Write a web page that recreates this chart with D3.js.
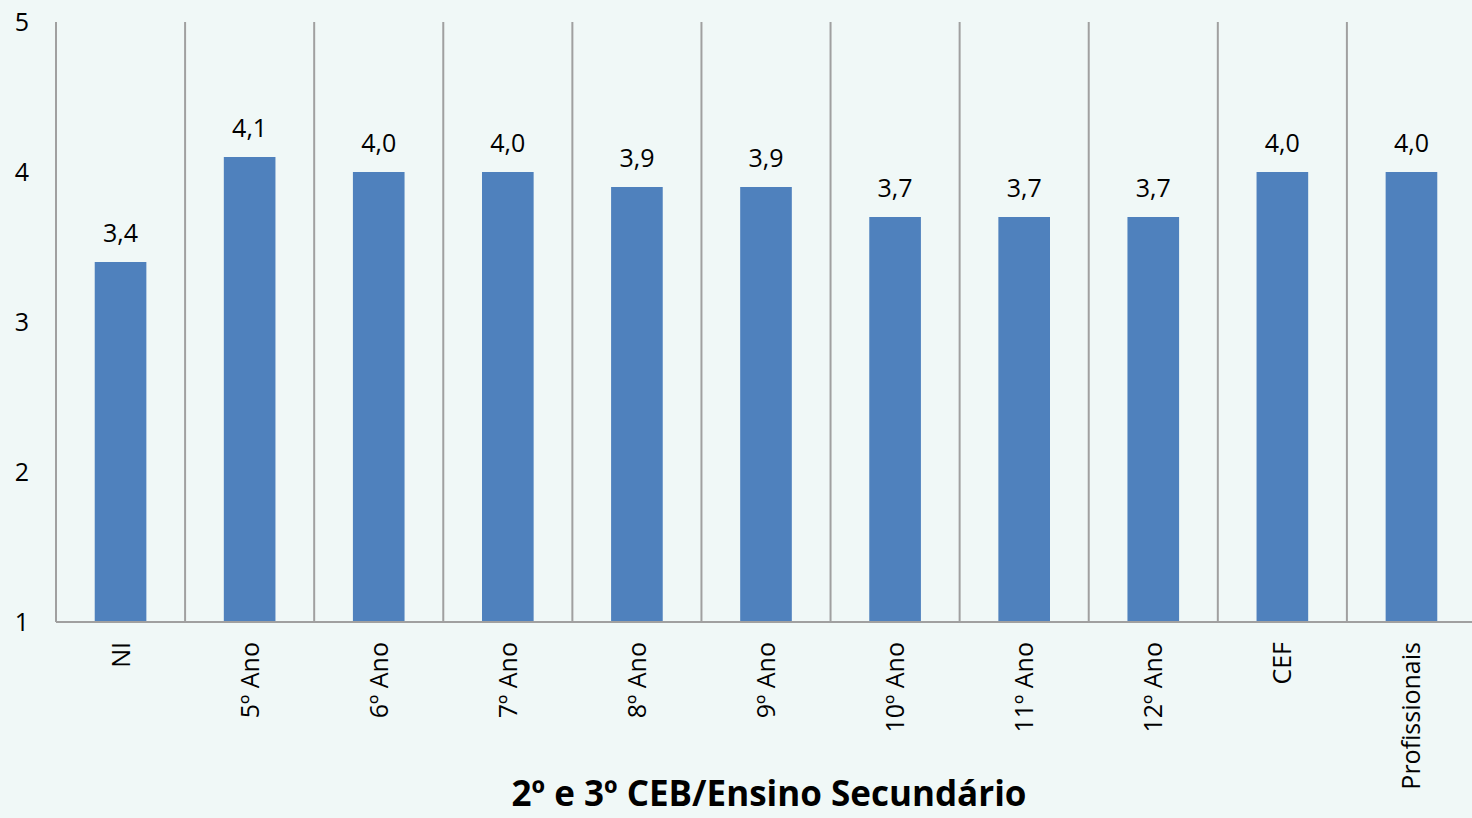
<!DOCTYPE html>
<html>
<head>
<meta charset="utf-8">
<script src="https://cdn.jsdelivr.net/npm/d3@7"></script>
<style>
  html, body { margin: 0; padding: 0; background: #f0f8f7; overflow: hidden; }
  svg text { font-family: "Open Sans", sans-serif; fill: #000; }
</style>
</head>
<body>
<svg id="chart"></svg>
<script>
var categories = ["NI", "5º Ano", "6º Ano", "7º Ano", "8º Ano", "9º Ano", "10º Ano", "11º Ano", "12º Ano", "CEF", "Profissionais"];
var values = [3.4, 4.1, 4.0, 4.0, 3.9, 3.9, 3.7, 3.7, 3.7, 4.0, 4.0];
var yTicks = [1, 2, 3, 4, 5];
var axisTitle = "2º e 3º CEB/Ensino Secundário";

var width = 1472, height = 818;
var plotLeft = 56, plotRight = 1476, plotTop = 22, plotBottom = 622;

var svg = d3.select("#chart")
    .attr("width", width)
    .attr("height", height);

svg.append("rect")
    .attr("width", width)
    .attr("height", height)
    .attr("fill", "#f0f8f7");

var x = d3.scaleBand()
    .domain(categories)
    .range([plotLeft, plotRight])
    .paddingInner(0.6)
    .paddingOuter(0.3);

var y = d3.scaleLinear()
    .domain([1, 5])
    .range([plotBottom, plotTop]);

// vertical category separators
var bounds = d3.range(categories.length + 1).map(function(i) {
    return plotLeft + i * (plotRight - plotLeft) / categories.length;
});
svg.append("g")
    .selectAll("line")
    .data(bounds)
    .enter().append("line")
    .attr("x1", function(d) { return d; })
    .attr("x2", function(d) { return d; })
    .attr("y1", plotTop)
    .attr("y2", plotBottom)
    .attr("stroke", "#a0a0a0")
    .attr("stroke-width", 2);

// bars
svg.append("g")
    .selectAll("rect")
    .data(values)
    .enter().append("rect")
    .attr("x", function(d, i) { return x(categories[i]); })
    .attr("y", function(d) { return y(d); })
    .attr("width", x.bandwidth())
    .attr("height", function(d) { return y(1) - y(d); })
    .attr("fill", "#4f81bd");

// value labels
svg.append("g")
    .selectAll("text")
    .data(values)
    .enter().append("text")
    .attr("x", function(d, i) { return x(categories[i]) + x.bandwidth() / 2; })
    .attr("y", function(d) { return y(d) - 20; })
    .attr("text-anchor", "middle")
    .style("font-size", "25px")
    .text(function(d) { return d3.format(".1f")(d).replace(".", ","); });

// baseline
svg.append("line")
    .attr("x1", plotLeft)
    .attr("x2", plotRight)
    .attr("y1", plotBottom)
    .attr("y2", plotBottom)
    .attr("stroke", "#a0a0a0")
    .attr("stroke-width", 2);

// y tick labels
svg.append("g")
    .selectAll("text")
    .data(yTicks)
    .enter().append("text")
    .attr("x", 29)
    .attr("y", function(d) { return y(d) + 9; })
    .attr("text-anchor", "end")
    .style("font-size", "25px")
    .text(function(d) { return d; });

// category labels, rotated
svg.append("g")
    .selectAll("text")
    .data(categories)
    .enter().append("text")
    .attr("transform", function(d) {
        return "translate(" + (x(d) + x.bandwidth() / 2 + 9) + "," + 642 + ") rotate(-90)";
    })
    .attr("text-anchor", "end")
    .style("font-size", "25px")
    .text(function(d) { return d; });

// axis title
svg.append("text")
    .attr("x", 769)
    .attr("y", 806)
    .attr("text-anchor", "middle")
    .style("font-size", "35px")
    .style("font-weight", "bold")
    .text(axisTitle);
</script>
</body>
</html>
